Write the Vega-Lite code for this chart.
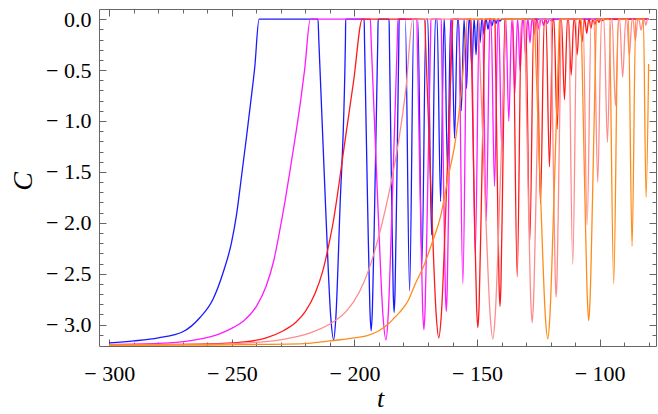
{
  "$schema": "https://vega.github.io/schema/vega-lite/v6.json",
  "width": 557,
  "height": 337,
  "autosize": {"type": "none"},
  "padding": {"left": 99, "top": 9, "right": 2, "bottom": 68},
  "background": "white",
  "config": {"view": {"stroke": null}},
  "data": {"values": [
    {"s":"1","t":-300,"c":-3.18},{"s":"1","t":-290,"c":-3.16},{"s":"1","t":-280,"c":-3.13},{"s":"1","t":-270,"c":-3.07},{"s":"1","t":-263,"c":-2.93},{"s":"1","t":-257.7,"c":-2.75},{"s":"1","t":-253.6,"c":-2.49},{"s":"1","t":-250.2,"c":-2.2},{"s":"1","t":-248.1,"c":-1.92},{"s":"1","t":-246.1,"c":-1.55},{"s":"1","t":-244,"c":-1.15},{"s":"1","t":-242.3,"c":-0.81},{"s":"1","t":-240.7,"c":-0.48},{"s":"1","t":-238.9,"c":0},
    {"s":"1","t":-214.87,"c":0},{"s":"1","t":-214.55,"c":-0.2},{"s":"1","t":-211.69,"c":-1.89},{"s":"1","t":-209.65,"c":-2.93},{"s":"1","t":-208.5,"c":-3.15},{"s":"1","t":-207.59,"c":-2.93},{"s":"1","t":-205.96,"c":-1.89},{"s":"1","t":-203.67,"c":-0.2},{"s":"1","t":-203.58,"c":0},
    {"s":"1","t":-196.04,"c":0},{"s":"1","t":-195.9,"c":-0.2},{"s":"1","t":-194.62,"c":-1.84},{"s":"1","t":-193.7,"c":-2.85},{"s":"1","t":-193.19,"c":-3.06},{"s":"1","t":-192.68,"c":-2.85},{"s":"1","t":-191.77,"c":-1.84},{"s":"1","t":-190.48,"c":-0.2},{"s":"1","t":-190.34,"c":0},
    {"s":"1","t":-185.86,"c":0},{"s":"1","t":-185.76,"c":-0.19},{"s":"1","t":-184.84,"c":-1.73},{"s":"1","t":-184.19,"c":-2.68},{"s":"1","t":-183.82,"c":-2.88},{"s":"1","t":-183.45,"c":-2.68},{"s":"1","t":-182.8,"c":-1.73},{"s":"1","t":-181.88,"c":-0.19},{"s":"1","t":-181.78,"c":0},
    {"s":"1","t":-179.26,"c":0},{"s":"1","t":-177.51,"c":-2.67},{"s":"1","t":-175.76,"c":0},
    {"s":"1","t":-174.16,"c":0},{"s":"1","t":-172.49,"c":-2.41},{"s":"1","t":-170.82,"c":0},
    {"s":"1","t":-170.09,"c":0},{"s":"1","t":-168.54,"c":-2.12},{"s":"1","t":-166.99,"c":0},
    {"s":"1","t":-166.3,"c":0},{"s":"1","t":-164.87,"c":-1.79},{"s":"1","t":-163.44,"c":0},
    {"s":"1","t":-163.32,"c":0},{"s":"1","t":-162.02,"c":-1.48},{"s":"1","t":-160.72,"c":0},
    {"s":"1","t":-160.39,"c":0},{"s":"1","t":-159.17,"c":-1.17},{"s":"1","t":-157.95,"c":0},
    {"s":"1","t":-157.58,"c":0},{"s":"1","t":-156.44,"c":-0.9},{"s":"1","t":-155.3,"c":0},
    {"s":"1","t":-155.26,"c":0},{"s":"1","t":-154.28,"c":-0.68},{"s":"1","t":-153.3,"c":0},
    {"s":"1","t":-153.02,"c":0},{"s":"1","t":-152.12,"c":-0.49},{"s":"1","t":-151.22,"c":0},
    {"s":"1","t":-151.14,"c":0},{"s":"1","t":-150.41,"c":-0.35},{"s":"1","t":-149.68,"c":0},
    {"s":"1","t":-149.51,"c":0},{"s":"1","t":-148.78,"c":-0.23},{"s":"1","t":-148.05,"c":0},
    {"s":"1","t":-147.88,"c":0},{"s":"1","t":-147.15,"c":-0.15},{"s":"1","t":-146.42,"c":0},
    {"s":"1","t":-146.25,"c":0},{"s":"1","t":-145.52,"c":-0.1},{"s":"1","t":-144.79,"c":0},
    {"s":"1","t":-144.62,"c":0},{"s":"1","t":-143.89,"c":-0.065},{"s":"1","t":-143.16,"c":0},
    {"s":"1","t":-142.99,"c":0},{"s":"1","t":-142.26,"c":-0.04},{"s":"1","t":-141.53,"c":0},
    {"s":"1","t":-141.36,"c":0},{"s":"1","t":-140.63,"c":-0.02},{"s":"1","t":-139.9,"c":0},
    {"s":"1","t":-80,"c":0},

    {"s":"2","t":-300,"c":-3.195},{"s":"2","t":-280,"c":-3.185},{"s":"2","t":-265,"c":-3.15},{"s":"2","t":-255,"c":-3.09},{"s":"2","t":-249.5,"c":-3.03},{"s":"2","t":-245,"c":-2.96},{"s":"2","t":-240,"c":-2.82},{"s":"2","t":-236,"c":-2.62},{"s":"2","t":-233,"c":-2.38},{"s":"2","t":-230.5,"c":-2.08},{"s":"2","t":-228.4,"c":-1.8},{"s":"2","t":-226.5,"c":-1.52},{"s":"2","t":-225,"c":-1.29},{"s":"2","t":-223.7,"c":-1.09},{"s":"2","t":-222,"c":-0.81},{"s":"2","t":-220.3,"c":-0.49},{"s":"2","t":-218,"c":0},
    {"s":"2","t":-193.52,"c":0},{"s":"2","t":-193.2,"c":-0.2},{"s":"2","t":-190.34,"c":-1.89},{"s":"2","t":-188.31,"c":-2.93},{"s":"2","t":-187.16,"c":-3.15},{"s":"2","t":-186.28,"c":-2.93},{"s":"2","t":-184.72,"c":-1.89},{"s":"2","t":-182.51,"c":-0.2},{"s":"2","t":-182.27,"c":0},
    {"s":"2","t":-174.53,"c":0},{"s":"2","t":-174.39,"c":-0.2},{"s":"2","t":-173.11,"c":-1.83},{"s":"2","t":-172.19,"c":-2.84},{"s":"2","t":-171.68,"c":-3.05},{"s":"2","t":-171.17,"c":-2.84},{"s":"2","t":-170.26,"c":-1.83},{"s":"2","t":-168.97,"c":-0.2},{"s":"2","t":-168.83,"c":0},
    {"s":"2","t":-164.59,"c":0},{"s":"2","t":-164.49,"c":-0.19},{"s":"2","t":-163.57,"c":-1.72},{"s":"2","t":-162.92,"c":-2.67},{"s":"2","t":-162.55,"c":-2.87},{"s":"2","t":-162.18,"c":-2.67},{"s":"2","t":-161.53,"c":-1.72},{"s":"2","t":-160.61,"c":-0.19},{"s":"2","t":-160.51,"c":0},
    {"s":"2","t":-157.54,"c":0},{"s":"2","t":-155.79,"c":-2.6},{"s":"2","t":-154.04,"c":0},
    {"s":"2","t":-152.4,"c":0},{"s":"2","t":-150.73,"c":-2.31},{"s":"2","t":-149.06,"c":0},
    {"s":"2","t":-147.8,"c":0},{"s":"2","t":-146.25,"c":-1.98},{"s":"2","t":-144.7,"c":0},
    {"s":"2","t":-144.3,"c":0},{"s":"2","t":-142.87,"c":-1.64},{"s":"2","t":-141.44,"c":0},
    {"s":"2","t":-141.19,"c":0},{"s":"2","t":-139.89,"c":-1.3},{"s":"2","t":-138.59,"c":0},
    {"s":"2","t":-138.26,"c":0},{"s":"2","t":-137.04,"c":-1.0},{"s":"2","t":-135.82,"c":0},
    {"s":"2","t":-135.7,"c":0},{"s":"2","t":-134.6,"c":-0.73},{"s":"2","t":-133.5,"c":0},
    {"s":"2","t":-133.4,"c":0},{"s":"2","t":-132.4,"c":-0.51},{"s":"2","t":-131.4,"c":0},
    {"s":"2","t":-131.14,"c":0},{"s":"2","t":-130.24,"c":-0.35},{"s":"2","t":-129.34,"c":0},
    {"s":"2","t":-129.2,"c":0},{"s":"2","t":-128.4,"c":-0.23},{"s":"2","t":-127.6,"c":0},
    {"s":"2","t":-127.32,"c":0},{"s":"2","t":-126.57,"c":-0.15},{"s":"2","t":-125.82,"c":0},
    {"s":"2","t":-125.48,"c":0},{"s":"2","t":-124.73,"c":-0.1},{"s":"2","t":-123.98,"c":0},
    {"s":"2","t":-123.65,"c":0},{"s":"2","t":-122.9,"c":-0.06},{"s":"2","t":-122.15,"c":0},
    {"s":"2","t":-122.02,"c":0},{"s":"2","t":-121.27,"c":-0.04},{"s":"2","t":-120.52,"c":0},
    {"s":"2","t":-120.39,"c":0},{"s":"2","t":-119.64,"c":-0.02},{"s":"2","t":-118.89,"c":0},
    {"s":"2","t":-80,"c":0},

    {"s":"3","t":-300,"c":-3.2},{"s":"3","t":-260,"c":-3.19},{"s":"3","t":-245,"c":-3.17},{"s":"3","t":-236,"c":-3.13},{"s":"3","t":-229,"c":-3.06},{"s":"3","t":-224,"c":-2.98},{"s":"3","t":-220,"c":-2.87},{"s":"3","t":-216,"c":-2.69},{"s":"3","t":-213,"c":-2.48},{"s":"3","t":-210.5,"c":-2.22},{"s":"3","t":-208.5,"c":-1.97},{"s":"3","t":-207.4,"c":-1.8},{"s":"3","t":-204,"c":-1.22},{"s":"3","t":-200.3,"c":-0.6},{"s":"3","t":-196.8,"c":0},
    {"s":"3","t":-171.32,"c":0},{"s":"3","t":-171.03,"c":-0.2},{"s":"3","t":-168.47,"c":-1.88},{"s":"3","t":-166.64,"c":-2.91},{"s":"3","t":-165.61,"c":-3.13},{"s":"3","t":-164.58,"c":-2.91},{"s":"3","t":-162.76,"c":-1.88},{"s":"3","t":-160.19,"c":-0.2},{"s":"3","t":-159.9,"c":0},
    {"s":"3","t":-152.52,"c":0},{"s":"3","t":-152.38,"c":-0.2},{"s":"3","t":-151.1,"c":-1.82},{"s":"3","t":-150.18,"c":-2.82},{"s":"3","t":-149.67,"c":-3.03},{"s":"3","t":-149.16,"c":-2.82},{"s":"3","t":-148.25,"c":-1.82},{"s":"3","t":-146.96,"c":-0.2},{"s":"3","t":-146.82,"c":0},
    {"s":"3","t":-142.67,"c":0},{"s":"3","t":-142.57,"c":-0.18},{"s":"3","t":-141.65,"c":-1.69},{"s":"3","t":-141.0,"c":-2.62},{"s":"3","t":-140.63,"c":-2.82},{"s":"3","t":-140.26,"c":-2.62},{"s":"3","t":-139.61,"c":-1.69},{"s":"3","t":-138.69,"c":-0.18},{"s":"3","t":-138.59,"c":0},
    {"s":"3","t":-135.37,"c":0},{"s":"3","t":-133.62,"c":-2.53},{"s":"3","t":-131.87,"c":0},
    {"s":"3","t":-130.15,"c":0},{"s":"3","t":-128.48,"c":-2.18},{"s":"3","t":-126.81,"c":0},
    {"s":"3","t":-125.67,"c":0},{"s":"3","t":-124.12,"c":-1.81},{"s":"3","t":-122.57,"c":0},
    {"s":"3","t":-121.89,"c":0},{"s":"3","t":-120.46,"c":-1.45},{"s":"3","t":-119.03,"c":0},
    {"s":"3","t":-118.62,"c":0},{"s":"3","t":-117.32,"c":-1.08},{"s":"3","t":-116.02,"c":0},
    {"s":"3","t":-115.56,"c":0},{"s":"3","t":-114.34,"c":-0.79},{"s":"3","t":-113.12,"c":0},
    {"s":"3","t":-112.71,"c":0},{"s":"3","t":-111.61,"c":-0.55},{"s":"3","t":-110.51,"c":0},
    {"s":"3","t":-110.17,"c":0},{"s":"3","t":-109.17,"c":-0.35},{"s":"3","t":-108.17,"c":0},
    {"s":"3","t":-108.03,"c":0},{"s":"3","t":-107.13,"c":-0.22},{"s":"3","t":-106.23,"c":0},
    {"s":"3","t":-106.06,"c":0},{"s":"3","t":-105.26,"c":-0.14},{"s":"3","t":-104.46,"c":0},
    {"s":"3","t":-104.29,"c":0},{"s":"3","t":-103.54,"c":-0.09},{"s":"3","t":-102.79,"c":0},
    {"s":"3","t":-102.66,"c":0},{"s":"3","t":-101.91,"c":-0.055},{"s":"3","t":-101.16,"c":0},
    {"s":"3","t":-101.03,"c":0},{"s":"3","t":-100.28,"c":-0.03},{"s":"3","t":-99.53,"c":0},
    {"s":"3","t":-99.4,"c":0},{"s":"3","t":-98.65,"c":-0.015},{"s":"3","t":-97.9,"c":0},
    {"s":"3","t":-80,"c":0},

    {"s":"4","t":-300,"c":-3.2},{"s":"4","t":-260,"c":-3.195},{"s":"4","t":-240,"c":-3.175},{"s":"4","t":-228,"c":-3.14},{"s":"4","t":-218,"c":-3.08},{"s":"4","t":-209,"c":-2.98},{"s":"4","t":-203,"c":-2.86},{"s":"4","t":-198,"c":-2.68},{"s":"4","t":-194,"c":-2.45},{"s":"4","t":-190.5,"c":-2.17},{"s":"4","t":-187.5,"c":-1.88},{"s":"4","t":-185,"c":-1.6},{"s":"4","t":-182,"c":-1.2},{"s":"4","t":-179,"c":-0.68},{"s":"4","t":-176.2,"c":0},
    {"s":"4","t":-149.47,"c":0},{"s":"4","t":-149.17,"c":-0.2},{"s":"4","t":-146.52,"c":-1.88},{"s":"4","t":-144.62,"c":-2.92},{"s":"4","t":-143.56,"c":-3.14},{"s":"4","t":-142.61,"c":-2.92},{"s":"4","t":-140.91,"c":-1.88},{"s":"4","t":-138.53,"c":-0.2},{"s":"4","t":-138.26,"c":0},
    {"s":"4","t":-130.57,"c":0},{"s":"4","t":-130.42,"c":-0.19},{"s":"4","t":-129.04,"c":-1.79},{"s":"4","t":-128.06,"c":-2.77},{"s":"4","t":-127.51,"c":-2.98},{"s":"4","t":-126.96,"c":-2.77},{"s":"4","t":-125.98,"c":-1.79},{"s":"4","t":-124.6,"c":-0.19},{"s":"4","t":-124.45,"c":0},
    {"s":"4","t":-119.77,"c":0},{"s":"4","t":-119.67,"c":-0.18},{"s":"4","t":-118.75,"c":-1.64},{"s":"4","t":-118.1,"c":-2.54},{"s":"4","t":-117.73,"c":-2.73},{"s":"4","t":-117.36,"c":-2.54},{"s":"4","t":-116.71,"c":-1.64},{"s":"4","t":-115.79,"c":-0.18},{"s":"4","t":-115.69,"c":0},
    {"s":"4","t":-112.71,"c":0},{"s":"4","t":-110.96,"c":-2.41},{"s":"4","t":-109.21,"c":0},
    {"s":"4","t":-106.76,"c":0},{"s":"4","t":-105.09,"c":-2.02},{"s":"4","t":-103.42,"c":0},
    {"s":"4","t":-102.32,"c":0},{"s":"4","t":-100.77,"c":-1.6},{"s":"4","t":-99.22,"c":0},
    {"s":"4","t":-98.27,"c":0},{"s":"4","t":-96.82,"c":-1.21},{"s":"4","t":-95.37,"c":0},
    {"s":"4","t":-94.91,"c":0},{"s":"4","t":-93.56,"c":-0.85},{"s":"4","t":-92.21,"c":0},
    {"s":"4","t":-91.84,"c":0},{"s":"4","t":-90.59,"c":-0.57},{"s":"4","t":-89.34,"c":0},
    {"s":"4","t":-88.96,"c":0},{"s":"4","t":-87.86,"c":-0.36},{"s":"4","t":-86.76,"c":0},
    {"s":"4","t":-86.41,"c":0},{"s":"4","t":-85.41,"c":-0.21},{"s":"4","t":-84.41,"c":0},
    {"s":"4","t":-83.99,"c":0},{"s":"4","t":-83.09,"c":-0.11},{"s":"4","t":-82.19,"c":0},
    {"s":"4","t":-81.83,"c":0},{"s":"4","t":-81.13,"c":-0.06},{"s":"4","t":-80.43,"c":0},
    {"s":"4","t":-80,"c":0},

    {"s":"5","t":-300,"c":-3.2},{"s":"5","t":-260,"c":-3.2},{"s":"5","t":-240,"c":-3.195},{"s":"5","t":-222.3,"c":-3.19},{"s":"5","t":-210,"c":-3.16},{"s":"5","t":-200,"c":-3.13},{"s":"5","t":-195.1,"c":-3.11},{"s":"5","t":-190,"c":-3.06},{"s":"5","t":-186,"c":-2.99},{"s":"5","t":-183.6,"c":-2.93},{"s":"5","t":-181.6,"c":-2.88},{"s":"5","t":-178,"c":-2.76},{"s":"5","t":-175.2,"c":-2.6},{"s":"5","t":-172,"c":-2.44},{"s":"5","t":-168.4,"c":-2.2},{"s":"5","t":-165,"c":-1.95},{"s":"5","t":-161.6,"c":-1.53},{"s":"5","t":-159,"c":-1.22},{"s":"5","t":-156.4,"c":-0.71},{"s":"5","t":-153.75,"c":0},
    {"s":"5","t":-126.57,"c":0},{"s":"5","t":-126.3,"c":-0.2},{"s":"5","t":-123.86,"c":-1.88},{"s":"5","t":-122.13,"c":-2.92},{"s":"5","t":-121.15,"c":-3.14},{"s":"5","t":-120.29,"c":-2.92},{"s":"5","t":-118.77,"c":-1.88},{"s":"5","t":-116.62,"c":-0.2},{"s":"5","t":-116.38,"c":0},
    {"s":"5","t":-107.5,"c":0},{"s":"5","t":-107.35,"c":-0.19},{"s":"5","t":-105.97,"c":-1.78},{"s":"5","t":-104.99,"c":-2.75},{"s":"5","t":-104.44,"c":-2.96},{"s":"5","t":-103.89,"c":-2.75},{"s":"5","t":-102.91,"c":-1.78},{"s":"5","t":-101.53,"c":-0.19},{"s":"5","t":-101.38,"c":0},
    {"s":"5","t":-96.1,"c":0},{"s":"5","t":-94.25,"c":-2.6},{"s":"5","t":-92.4,"c":0},
    {"s":"5","t":-88.26,"c":0},{"s":"5","t":-86.76,"c":-2.23},{"s":"5","t":-85.26,"c":0},
    {"s":"5","t":-82.15,"c":0},{"s":"5","t":-81.05,"c":-1.75},{"s":"5","t":-80,"c":-0.44}
  ]},
  "layer": [
    {
      "mark": {"type": "line", "strokeWidth": 1.3, "strokeJoin": "round", "clip": true, "interpolate": "monotone"},
      "encoding": {
        "x": {"field": "t", "type": "quantitative",
          "scale": {"domain": [-304.2, -77.0], "nice": false, "zero": false},
          "axis": {"orient": "bottom",
            "values": [-300,-290,-280,-270,-260,-250,-240,-230,-220,-210,-200,-190,-180,-170,-160,-150,-140,-130,-120,-110,-100,-90,-80],
            "tickSize": {"condition": {"test": "datum.value % 50 === 0", "value": -7}, "value": -4},
            "tickColor": "#666", "tickWidth": 1, "domainColor": "#666", "domainWidth": 1, "grid": false,
            "labelExpr": "datum.value % 50 === 0 ? '\u2212 ' + abs(datum.value) : ''",
            "labelFont": "Liberation Serif", "labelFontSize": 22, "labelColor": "black",
            "labelBaseline": "alphabetic", "labelPadding": 41, "labelFlush": false, "labelOverlap": false,
            "title": "t", "titleFont": "Liberation Serif", "titleFontStyle": "italic", "titleFontWeight": "normal",
            "titleFontSize": 26, "titleColor": "black", "titleBaseline": "alphabetic", "titleY": 60, "titleX": 281}},
        "y": {"field": "c", "type": "quantitative",
          "scale": {"domain": [-3.21, 0.1], "nice": false, "zero": false},
          "axis": {"orient": "left",
            "values": [-3.1,-3,-2.9,-2.8,-2.7,-2.6,-2.5,-2.4,-2.3,-2.2,-2.1,-2,-1.9,-1.8,-1.7,-1.6,-1.5,-1.4,-1.3,-1.2,-1.1,-1,-0.9,-0.8,-0.7,-0.6,-0.5,-0.4,-0.3,-0.2,-0.1,0],
            "tickSize": {"condition": {"test": "abs(round(datum.value*10)) % 5 === 0", "value": -7}, "value": -4},
            "tickColor": "#666", "tickWidth": 1, "domainColor": "#666", "domainWidth": 1, "grid": false,
            "labelExpr": "abs(round(datum.value*10)) % 5 === 0 ? (datum.value < -0.01 ? '\u2212 ' + format(-datum.value, '.1f') : '0.0') : ''",
            "labelFont": "Liberation Serif", "labelFontSize": 22, "labelColor": "black",
            "labelBaseline": "middle", "labelPadding": 15, "labelFlush": false, "labelOverlap": false,
            "title": "C", "titleFont": "Liberation Serif", "titleFontStyle": "italic", "titleFontWeight": "normal",
            "titleFontSize": 28, "titleColor": "black", "titleAngle": 270, "titleBaseline": "middle", "titleAlign": "center",
            "titleX": -76, "titleY": 172}},
        "color": {"field": "s", "type": "nominal",
          "scale": {"domain": ["1","2","3","4","5"], "range": ["#1a1aff","#ff1aff","#ff1a1a","#ff8c8c","#ff8c1a"]},
          "legend": null}
      }
    },
    {
      "transform": [{"filter": "false"}],
      "mark": "point",
      "encoding": {
        "x": {"field": "t", "type": "quantitative",
          "scale": {"domain": [-304.2, -77.0], "nice": false, "zero": false},
          "axis": {"orient": "top",
            "values": [-300,-290,-280,-270,-260,-250,-240,-230,-220,-210,-200,-190,-180,-170,-160,-150,-140,-130,-120,-110,-100,-90,-80],
            "tickSize": {"condition": {"test": "datum.value % 50 === 0", "value": -7}, "value": -4},
            "tickColor": "#666", "tickWidth": 1, "domainColor": "#666", "domainWidth": 1, "grid": false,
            "labels": false, "title": null}},
        "y": {"field": "c", "type": "quantitative",
          "scale": {"domain": [-3.21, 0.1], "nice": false, "zero": false},
          "axis": {"orient": "right",
            "values": [-3.1,-3,-2.9,-2.8,-2.7,-2.6,-2.5,-2.4,-2.3,-2.2,-2.1,-2,-1.9,-1.8,-1.7,-1.6,-1.5,-1.4,-1.3,-1.2,-1.1,-1,-0.9,-0.8,-0.7,-0.6,-0.5,-0.4,-0.3,-0.2,-0.1,0],
            "tickSize": {"condition": {"test": "abs(round(datum.value*10)) % 5 === 0", "value": -7}, "value": -4},
            "tickColor": "#666", "tickWidth": 1, "domainColor": "#666", "domainWidth": 1, "grid": false,
            "labels": false, "title": null}}
      }
    }
  ],
  "resolve": {"axis": {"x": "independent", "y": "independent"}}
}
